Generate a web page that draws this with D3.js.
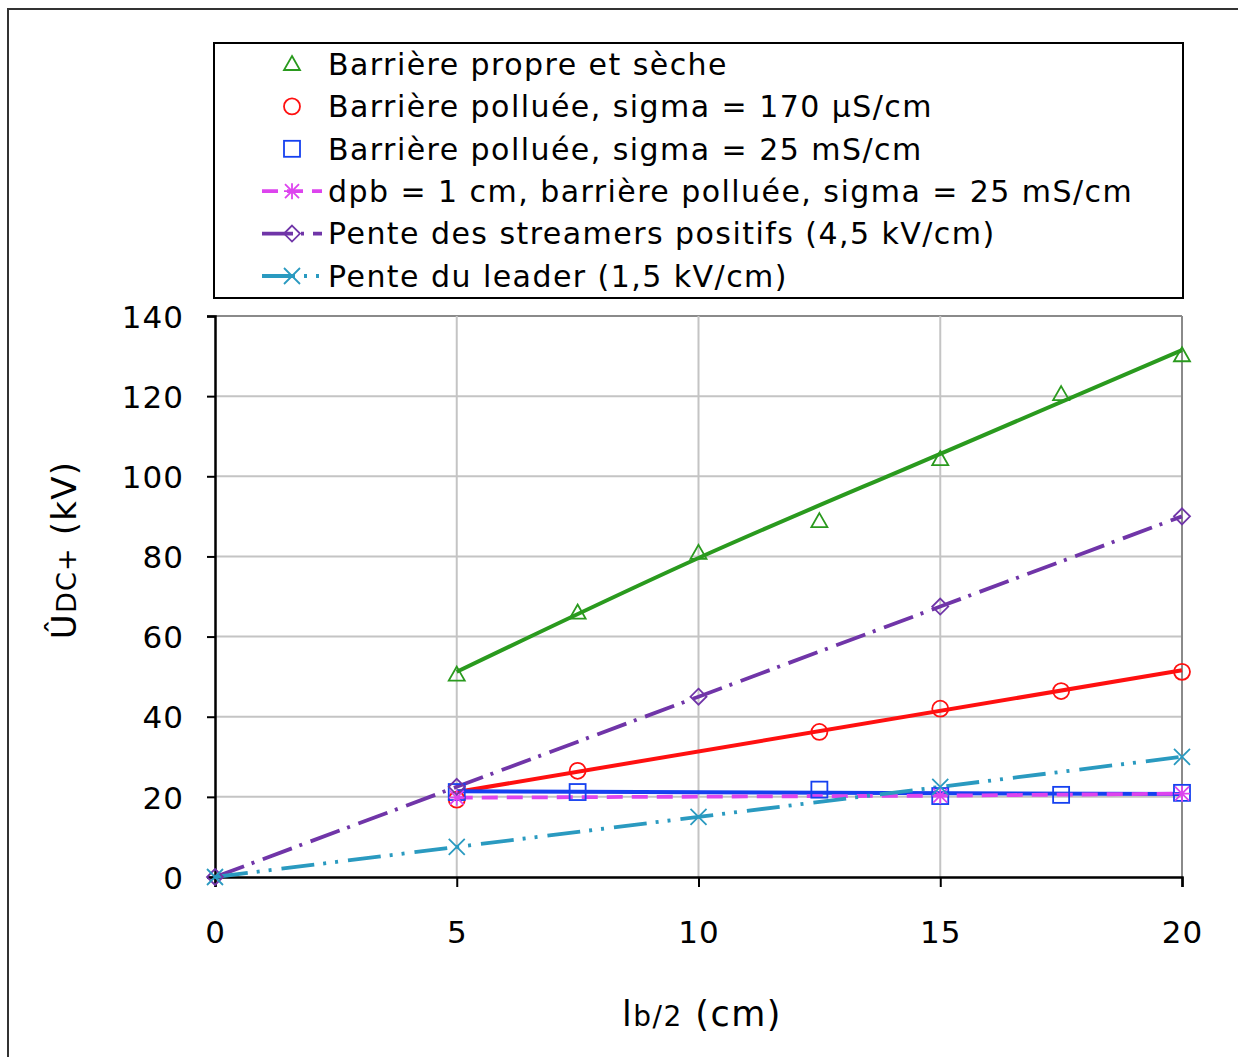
<!DOCTYPE html>
<html>
<head>
<meta charset="utf-8">
<script src="https://cdn.jsdelivr.net/npm/d3@7"></script>
<style>
  body { margin: 0; background: #fff; overflow: hidden; }
  text { font-family: "DejaVu Sans", Verdana, sans-serif; fill: #000; }
</style>
</head>
<body>
<div id="chart"></div>
<script>
// measured points
const propre = [[5, 50.5], [7.5, 66], [10, 80.9], [12.5, 88.8], [15, 104.3], [17.5, 120.5], [20, 130.2]];
const pollue170 = [[5, 19.3], [7.5, 26.5], [12.5, 36.2], [15, 42], [17.5, 46.4], [20, 51.2]];
const pollue25 = [[5, 21.2], [7.5, 21.2], [12.5, 21.8], [15, 20.2], [17.5, 20.5], [20, 21]];
const dpb1 = [[5, 19.8], [15, 20.3], [20, 20.8]];
const streamers = [[0, 0], [5, 22.5], [10, 45], [15, 67.5], [20, 90]];
const leader = [[0, 0], [5, 7.5], [10, 15], [15, 22.5], [20, 30]];

// trend lines as drawn on the figure
const trendPropre = [[5, 51.2], [10, 79.6], [15, 105.6], [20, 131.5]];
const trend170 = [[5, 21.2], [20, 51.6]];
const trend25 = [[5, 21.4], [7.5, 21.3], [20, 20.7]];

const xTicks = [0, 5, 10, 15, 20];
const yTicks = [0, 20, 40, 60, 80, 100, 120, 140];

const legendLabels = [
    'Barrière propre et sèche',
    'Barrière polluée, sigma = 170 µS/cm',
    'Barrière polluée, sigma = 25 mS/cm',
    'dpb = 1 cm, barrière polluée, sigma = 25 mS/cm',
    'Pente des streamers positifs (4,5 kV/cm)',
    'Pente du leader (1,5 kV/cm)'
];

const W = 1238, H = 1057;
const plot = {left: 215, right: 1182, top: 316, bottom: 877};

const svg = d3.select('#chart').append('svg')
    .attr('width', W)
    .attr('height', H);

// outer frame (cut at right and bottom)
svg.append('rect')
    .attr('x', 8).attr('y', 9)
    .attr('width', 1260).attr('height', 1080)
    .attr('fill', 'none')
    .attr('stroke', '#333')
    .attr('stroke-width', 2);

const x = d3.scaleLinear().domain([0, 20]).range([plot.left, plot.right]);
const y = d3.scaleLinear().domain([0, 140]).range([plot.bottom, plot.top]);

// grid
svg.append('g').selectAll('line')
    .data(yTicks.filter(d => d > 0))
    .enter().append('line')
    .attr('x1', plot.left).attr('x2', plot.right)
    .attr('y1', d => y(d)).attr('y2', d => y(d))
    .attr('stroke', d => d === 140 ? '#8a8a8a' : '#c4c4c4')
    .attr('stroke-width', 2);
svg.append('g').selectAll('line')
    .data(xTicks.filter(d => d > 0))
    .enter().append('line')
    .attr('x1', d => x(d)).attr('x2', d => x(d))
    .attr('y1', plot.top).attr('y2', plot.bottom)
    .attr('stroke', d => d === 20 ? '#8a8a8a' : '#c4c4c4')
    .attr('stroke-width', 2);

// axes
const xAxis = svg.append('g')
    .attr('transform', `translate(0,${plot.bottom})`)
    .call(d3.axisBottom(x).tickValues(xTicks).tickSize(10).tickPadding(34));
const yAxis = svg.append('g')
    .attr('transform', `translate(${plot.left},0)`)
    .call(d3.axisLeft(y).tickValues(yTicks).tickSize(8).tickPadding(23));
[xAxis, yAxis].forEach(a => {
    a.select('.domain').attr('stroke', '#000').attr('stroke-width', 2.5);
    a.selectAll('.tick line').attr('stroke', '#000').attr('stroke-width', 2);
    a.selectAll('.tick text')
        .style('font-family', '"DejaVu Sans", Verdana, sans-serif')
        .style('font-size', '31px')
        .style('letter-spacing', '1px')
        .attr('fill', '#000');
});
yAxis.selectAll('.tick text').attr('dy', '0.36em');

// axis titles
const xt = svg.append('text')
    .attr('x', 702).attr('y', 1026)
    .attr('text-anchor', 'middle')
    .style('letter-spacing', '1.5px')
    .style('font-size', '35px');
xt.append('tspan').text('l');
xt.append('tspan').style('font-size', '28px').text('b/2');
xt.append('tspan').text(' (cm)');

const yt = svg.append('text')
    .attr('transform', 'translate(76,550) rotate(-90)')
    .attr('text-anchor', 'middle')
    .style('letter-spacing', '1.2px')
    .style('font-size', '34px');
yt.append('tspan').text('Û');
yt.append('tspan').style('font-size', '27px').text('DC+');
yt.append('tspan').text(' (kV)');

const line = d3.line().x(d => x(d[0])).y(d => y(d[1]));
const curve = d3.line().x(d => x(d[0])).y(d => y(d[1])).curve(d3.curveMonotoneX);

const series = [
    {name: legendLabels[0], data: propre, trend: trendPropre, color: '#2a9a1e', marker: 'tri', dash: null, legendLine: false},
    {name: legendLabels[1], data: pollue170, trend: trend170, color: '#ff1010', marker: 'circle', dash: null, legendLine: false},
    {name: legendLabels[2], data: pollue25, trend: trend25, color: '#1540f0', marker: 'square', dash: null, legendLine: false},
    {name: legendLabels[3], data: dpb1, line: true, color: '#dd44ee', marker: 'star', dash: '16,9', legendLine: true},
    {name: legendLabels[4], data: streamers, line: true, color: '#7035a8', marker: 'diamond', dash: '31,8,3,9', legendLine: true},
    {name: legendLabels[5], data: leader, line: true, color: '#2a9ac0', marker: 'cross', dash: '33,9,3,9,3,10', legendLine: true}
];

function drawMarker(g, type, color) {
    const sw = 1.8;
    if (type === 'tri') {
        g.append('path').attr('d', 'M0,-8L8,6L-8,6Z');
    } else if (type === 'circle') {
        g.append('circle').attr('r', 8);
    } else if (type === 'square') {
        g.append('rect').attr('x', -8).attr('y', -8).attr('width', 16).attr('height', 16);
    } else if (type === 'diamond') {
        g.append('path').attr('d', 'M0,-8L8,0L0,8L-8,0Z');
    } else if (type === 'cross') {
        g.append('path').attr('d', 'M-8,-8L8,8M-8,8L8,-8');
    } else if (type === 'star') {
        g.append('path').attr('d', 'M-7,-7L7,7M-7,7L7,-7M0,-8L0,8M-8,0L8,0');
    }
    g.selectAll('*')
        .attr('fill', 'none')
        .attr('stroke', color)
        .attr('stroke-width', sw);
}

// trend lines first
series.filter(s => s.trend).forEach(s => {
    svg.append('path')
        .datum(s.trend)
        .attr('d', s.trend.length > 3 ? curve : line)
        .attr('fill', 'none')
        .attr('stroke', s.color)
        .attr('stroke-width', 4);
});

// connected series
series.filter(s => s.line).forEach(s => {
    svg.append('path')
        .datum(s.data)
        .attr('d', line)
        .attr('fill', 'none')
        .attr('stroke', s.color)
        .attr('stroke-width', 3.8)
        .attr('stroke-dasharray', s.dash);
});

// markers
series.forEach(s => {
    svg.append('g').selectAll('g')
        .data(s.data)
        .enter().append('g')
        .attr('transform', d => `translate(${x(d[0])},${y(d[1])})`)
        .each(function () { drawMarker(d3.select(this), s.marker, s.color); });
});

// legend
const legend = svg.append('g');
legend.append('rect')
    .attr('x', 214).attr('y', 43)
    .attr('width', 969).attr('height', 255)
    .attr('fill', '#fff')
    .attr('stroke', '#000')
    .attr('stroke-width', 2);

const rowY = d3.scaleLinear().domain([0, 5]).range([64, 276]);
series.forEach((s, i) => {
    const g = legend.append('g').attr('transform', `translate(0,${rowY(i)})`);
    if (s.legendLine) {
        g.append('line')
            .attr('x1', 262).attr('x2', 322)
            .attr('y1', 0).attr('y2', 0)
            .attr('stroke', s.color)
            .attr('stroke-width', 3.8)
            .attr('stroke-dasharray', s.dash);
    }
    const m = g.append('g').attr('transform', 'translate(292,0)');
    drawMarker(m, s.marker, s.color);
    g.append('text')
        .attr('x', 328).attr('y', 0)
        .attr('dy', '0.36em')
        .style('font-size', '30px')
        .style('letter-spacing', '1.45px')
        .text(s.name);
});
</script>
</body>
</html>
